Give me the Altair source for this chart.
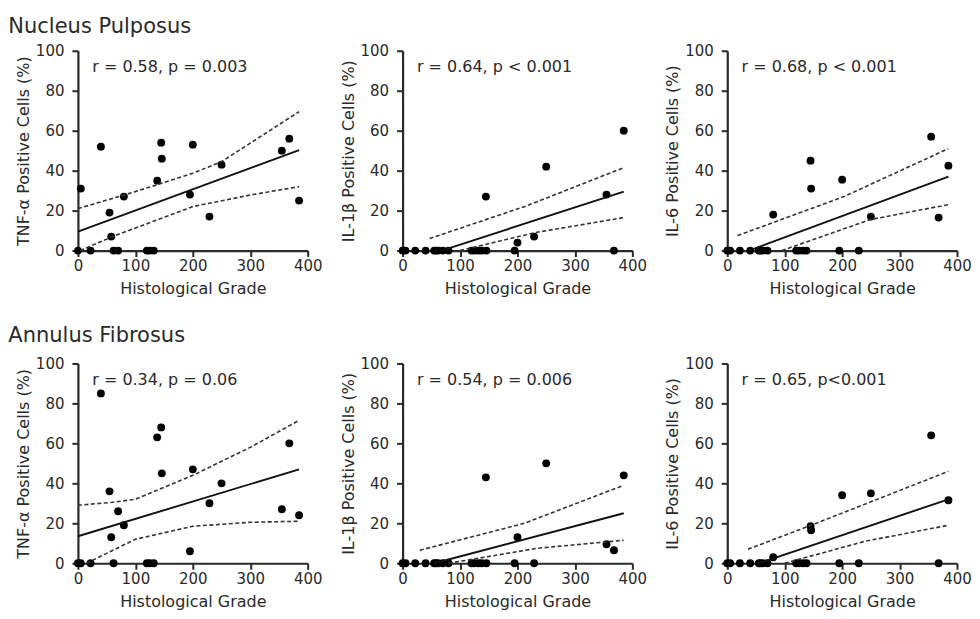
import altair as alt
import pandas as pd

# Histological grade of each sample (shared by all six panels)
GRADE = [0, 5, 22, 40, 55, 58, 62, 70, 80, 120, 125, 132, 138, 145, 146, 195, 200, 229, 250, 355, 368, 385]

# Positive cells (%)
NP_TNF = [0, 31, 0, 52, 19, 7, 0, 0, 27, 0, 0, 0, 35, 54, 46, 28, 53, 17, 43, 50, 56, 25]
NP_IL1B = [0, 0, 0, 0, 0, 0, 0, 0, 0, 0, 0, 0, 0, 27, 0, 0, 4, 7, 42, 28, 0, 60]
NP_IL6 = [0, 0, 0, 0, 0, 0, 0, 0, 18, 0, 0, 0, 0, 45, 31, 0, 35.5, 0, 17, 57, 16.5, 42.5]
AF_TNF = [0, 0, 0, 85, 36, 13, 0, 26, 19, 0, 0, 0, 63, 68, 45, 6, 47, 30, 40, 27, 60, 24]
AF_IL1B = [0, 0, 0, 0, 0, 0, 0, 0, 0, 0, 0, 0, 0, 43, 0, 0, 13, 0, 50, 9.5, 6.5, 44]
AF_IL6 = [0, 0, 0, 0, 0, 0, 0, 0, 3, 0, 0, 0, 0, 18.5, 16.5, 0, 34, 0, 35, 64, 0, 31.5]

# Regression lines and 95% bands
NP_TNF_FIT = ([0, 385], [9.5, 50.3])
NP_TNF_UP = ([0, 100, 200, 250, 385], [21, 29.5, 38.7, 44.5, 69.5])
NP_TNF_LO = ([4, 60, 200, 300, 385], [0, 7, 22, 27.8, 32])

NP_IL1B_FIT = ([68, 385], [0, 29.5])
NP_IL1B_UP = ([47, 217, 385], [6, 22.5, 41.5])
NP_IL1B_LO = ([100, 231, 385], [0, 9, 16.5])

NP_IL6_FIT = ([38, 385], [0, 37])
NP_IL6_UP = ([18, 203, 385], [7.5, 27, 51])
NP_IL6_LO = ([95, 249, 385], [0, 15.5, 23])

AF_TNF_FIT = ([0, 385], [13.5, 47])
AF_TNF_UP = ([0, 60, 100, 200, 300, 385], [29, 30.5, 32, 44, 58, 71.5])
AF_TNF_LO = ([15, 100, 200, 300, 385], [0, 12, 18.5, 20.5, 21])

AF_IL1B_FIT = ([55, 385], [0, 25])
AF_IL1B_UP = ([30, 212, 385], [6.5, 20, 39])
AF_IL1B_LO = ([80, 235, 385], [0, 7.5, 11.5])

AF_IL6_FIT = ([55, 385], [0, 32])
AF_IL6_UP = ([36, 146, 385], [7, 19, 46])
AF_IL6_LO = ([100, 240, 385], [0, 11, 19])

STATS = ["r = 0.58, p = 0.003", "r = 0.64, p < 0.001", "r = 0.68, p < 0.001",
         "r = 0.34, p = 0.06", "r = 0.54, p = 0.006", "r = 0.65, p<0.001"]
Y_TITLES = ["TNF-\u03b1 Positive Cells (%)", "IL-1\u03b2 Positive Cells (%)", "IL-6 Positive Cells (%)"]
X_TITLE = "Histological Grade"
X_TICKS = [0, 100, 200, 300, 400]
Y_TICKS = [0, 20, 40, 60, 80, 100]

FONT = "DejaVu Sans"
INK = "#2a2a2a"


def panel(yvals, ytitle, stat, fit, up, lo):
    pts = pd.DataFrame({"grade": GRADE, "pct": yvals})
    xs = alt.Scale(domain=[0, 400], nice=False)
    ys = alt.Scale(domain=[0, 100], nice=False)
    xax = alt.Axis(title=X_TITLE, values=X_TICKS, grid=False, domainWidth=2.2, domainColor=INK,
                   tickColor=INK, tickWidth=2, tickSize=6, labelFont=FONT, labelFontSize=15,
                   labelColor=INK, labelPadding=2, labelOverlap=False, titleFont=FONT,
                   titleFontSize=16, titleFontWeight="normal", titleColor=INK, titlePadding=7,
                   labelFlush=False)
    yax = alt.Axis(title=ytitle, values=Y_TICKS, grid=False, domainWidth=2.2, domainColor=INK,
                   tickColor=INK, tickWidth=2, tickSize=6, labelFont=FONT, labelFontSize=15,
                   labelColor=INK, labelPadding=8, labelOverlap=False, titleFont=FONT,
                   titleFontSize=16, titleFontWeight="normal", titleColor=INK, titlePadding=4,
                   labelFlush=False)
    X = alt.X("grade:Q", scale=xs, axis=xax)
    Y = alt.Y("pct:Q", scale=ys, axis=yax)

    def line_df(pair):
        return pd.DataFrame({"grade": pair[0], "pct": pair[1]})

    fit_l = alt.Chart(line_df(fit)).mark_line(color="#111", strokeWidth=1.9).encode(x=X, y=Y)
    up_l = alt.Chart(line_df(up)).mark_line(color="#333", strokeWidth=1.6,
                                            strokeDash=[4, 2.5]).encode(x=X, y=Y)
    lo_l = alt.Chart(line_df(lo)).mark_line(color="#333", strokeWidth=1.6,
                                            strokeDash=[4, 2.5]).encode(x=X, y=Y)
    dots = alt.Chart(pts).mark_circle(size=62, color="#000", opacity=1).encode(x=X, y=Y)
    txt = alt.Chart(pd.DataFrame({"grade": [25], "pct": [91.7], "t": [stat]})).mark_text(
        align="left", baseline="middle", font=FONT, fontSize=16, color=INK).encode(
        x=X, y=Y, text="t:N")
    return alt.layer(dots, fit_l, up_l, lo_l, txt).properties(width=230, height=200)


def row_title(text, offset):
    return alt.TitleParams(text, anchor="start", font=FONT, fontSize=21, fontWeight="normal",
                           color=INK, dx=-7, offset=offset)


row1 = alt.hconcat(
    panel(NP_TNF, Y_TITLES[0], STATS[0], NP_TNF_FIT, NP_TNF_UP, NP_TNF_LO),
    panel(NP_IL1B, Y_TITLES[1], STATS[1], NP_IL1B_FIT, NP_IL1B_UP, NP_IL1B_LO),
    panel(NP_IL6, Y_TITLES[2], STATS[2], NP_IL6_FIT, NP_IL6_UP, NP_IL6_LO),
    spacing=17,
    title=row_title("Nucleus Pulposus", 7),
)
row2 = alt.hconcat(
    panel(AF_TNF, Y_TITLES[0], STATS[3], AF_TNF_FIT, AF_TNF_UP, AF_TNF_LO),
    panel(AF_IL1B, Y_TITLES[1], STATS[4], AF_IL1B_FIT, AF_IL1B_UP, AF_IL1B_LO),
    panel(AF_IL6, Y_TITLES[2], STATS[5], AF_IL6_FIT, AF_IL6_UP, AF_IL6_LO),
    spacing=17,
    title=row_title("Annulus Fibrosus", 10),
)

chart = alt.vconcat(row1, row2, spacing=29).properties(
    padding={"left": 0, "top": 7.5, "right": 0, "bottom": 0}
).configure_view(stroke=None)

chart.save("out.html", embed_options={"renderer": "svg", "actions": False})
